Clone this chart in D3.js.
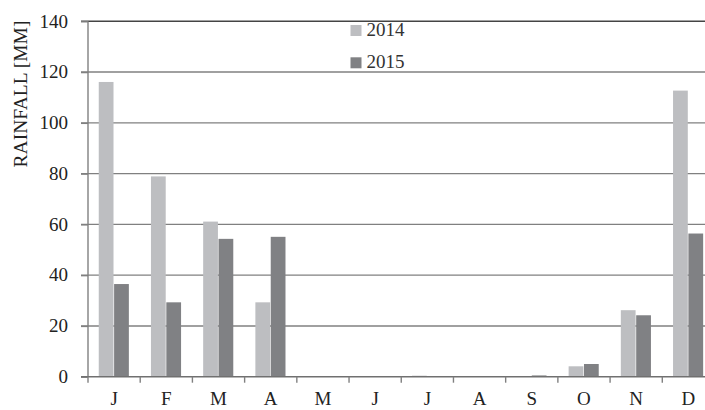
<!DOCTYPE html>
<html><head><meta charset="utf-8">
<script src="https://cdn.jsdelivr.net/npm/d3@7"></script>
<style>body{margin:0;background:#fff}svg{display:block}</style>
</head><body>
<svg id="c" width="705" height="410"></svg>
<script>
const months = ["J","F","M","A","M","J","J","A","S","O","N","D"];
const series = ["2014","2015"];
const values2014 = [116.1, 78.9, 61.1, 29.3, 0, 0, 0.4, 0, 0, 4.1, 26.2, 112.7];
const values2015 = [36.5, 29.3, 54.3, 55.1, 0, 0, 0, 0, 0.5, 5.0, 24.2, 56.4];
const yTicks = [0,20,40,60,80,100,120,140];
const colors = ["#bdbec1","#808184"];

(function(){
const svg = d3.select("#c");
const mLeft = 88, mRight = 714.5, mTop = 21.3, mBottom = 376.7;
const x = d3.scaleBand().domain(d3.range(months.length)).range([mLeft,mRight]).padding(0);
const xs = d3.scaleBand().domain(series).range([0,x.bandwidth()]).paddingInner(0).paddingOuter(0.7);
const y = d3.scaleLinear().domain([0,140]).range([mBottom,mTop]);
const font = "'Liberation Serif', 'DejaVu Serif', serif";

// gridlines
svg.append("g").selectAll("line").data(yTicks.filter(d=>d>0)).join("line")
  .attr("x1",mLeft-7).attr("x2",mRight).attr("y1",d=>y(d)).attr("y2",d=>y(d))
  .attr("stroke",d=>d===140?"#444":"#808080").attr("stroke-width",1.4);

// bars
const data = months.map((m,i)=>({i, vals:[values2014[i], values2015[i]]}));
const g = svg.append("g");
data.forEach(d=>{
  series.forEach((s,k)=>{
    const v = d.vals[k];
    if(v<=0) return;
    g.append("rect").attr("x",x(d.i)+xs(s)).attr("width",xs.bandwidth()-0.6)
      .attr("y",y(v)).attr("height",mBottom-y(v)).attr("fill",colors[k]);
  });
});

// y axis
const yAxis = d3.axisLeft(y).tickValues(yTicks).tickSize(7).tickPadding(13).tickFormat(d3.format("d"));
const ya = svg.append("g").attr("transform",`translate(${mLeft},0)`).call(yAxis);
ya.select(".domain").attr("stroke","#808080").attr("stroke-width",1.4).attr("d",`M0,${mBottom}V${mTop}`);
ya.selectAll(".tick line").attr("stroke","#808080").attr("stroke-width",1.4);
ya.selectAll(".tick text").attr("font-family",font).attr("font-size",19).attr("fill","#222").attr("dy","0.3em");

// x axis
const xa = svg.append("g").attr("transform",`translate(0,${mBottom})`)
  .call(d3.axisBottom(x).tickFormat(i=>months[i]).tickSize(0).tickPadding(14.5));
xa.select(".domain").attr("stroke","#707070").attr("stroke-width",1.4).attr("d",`M${mLeft-7},0H${mRight}`);
xa.selectAll(".tick text").attr("font-family",font).attr("font-size",19).attr("fill","#222").attr("dy","0.75em");
xa.append("g").selectAll("line").data(d3.range(months.length+1)).join("line")
  .attr("x1",i=>mLeft+i*x.step()).attr("x2",i=>mLeft+i*x.step())
  .attr("y1",0).attr("y2",6).attr("stroke","#808080").attr("stroke-width",1.4);

// y title
svg.append("text").attr("transform","translate(27,94) rotate(-90)")
  .attr("text-anchor","middle").attr("font-family",font).attr("font-size",19.5).attr("fill","#222")
  .text("RAINFALL [MM]");

// legend
const lg = svg.append("g");
series.forEach((s,k)=>{
  const yy = 25 + k*32.3;
  lg.append("rect").attr("x",350.5).attr("y",yy).attr("width",11).attr("height",11).attr("fill",colors[k]);
  lg.append("text").attr("x",366.5).attr("y",yy+10.8).attr("font-family",font).attr("font-size",19)
    .attr("fill","#333").text(s);
});
})();
</script>
</body></html>
